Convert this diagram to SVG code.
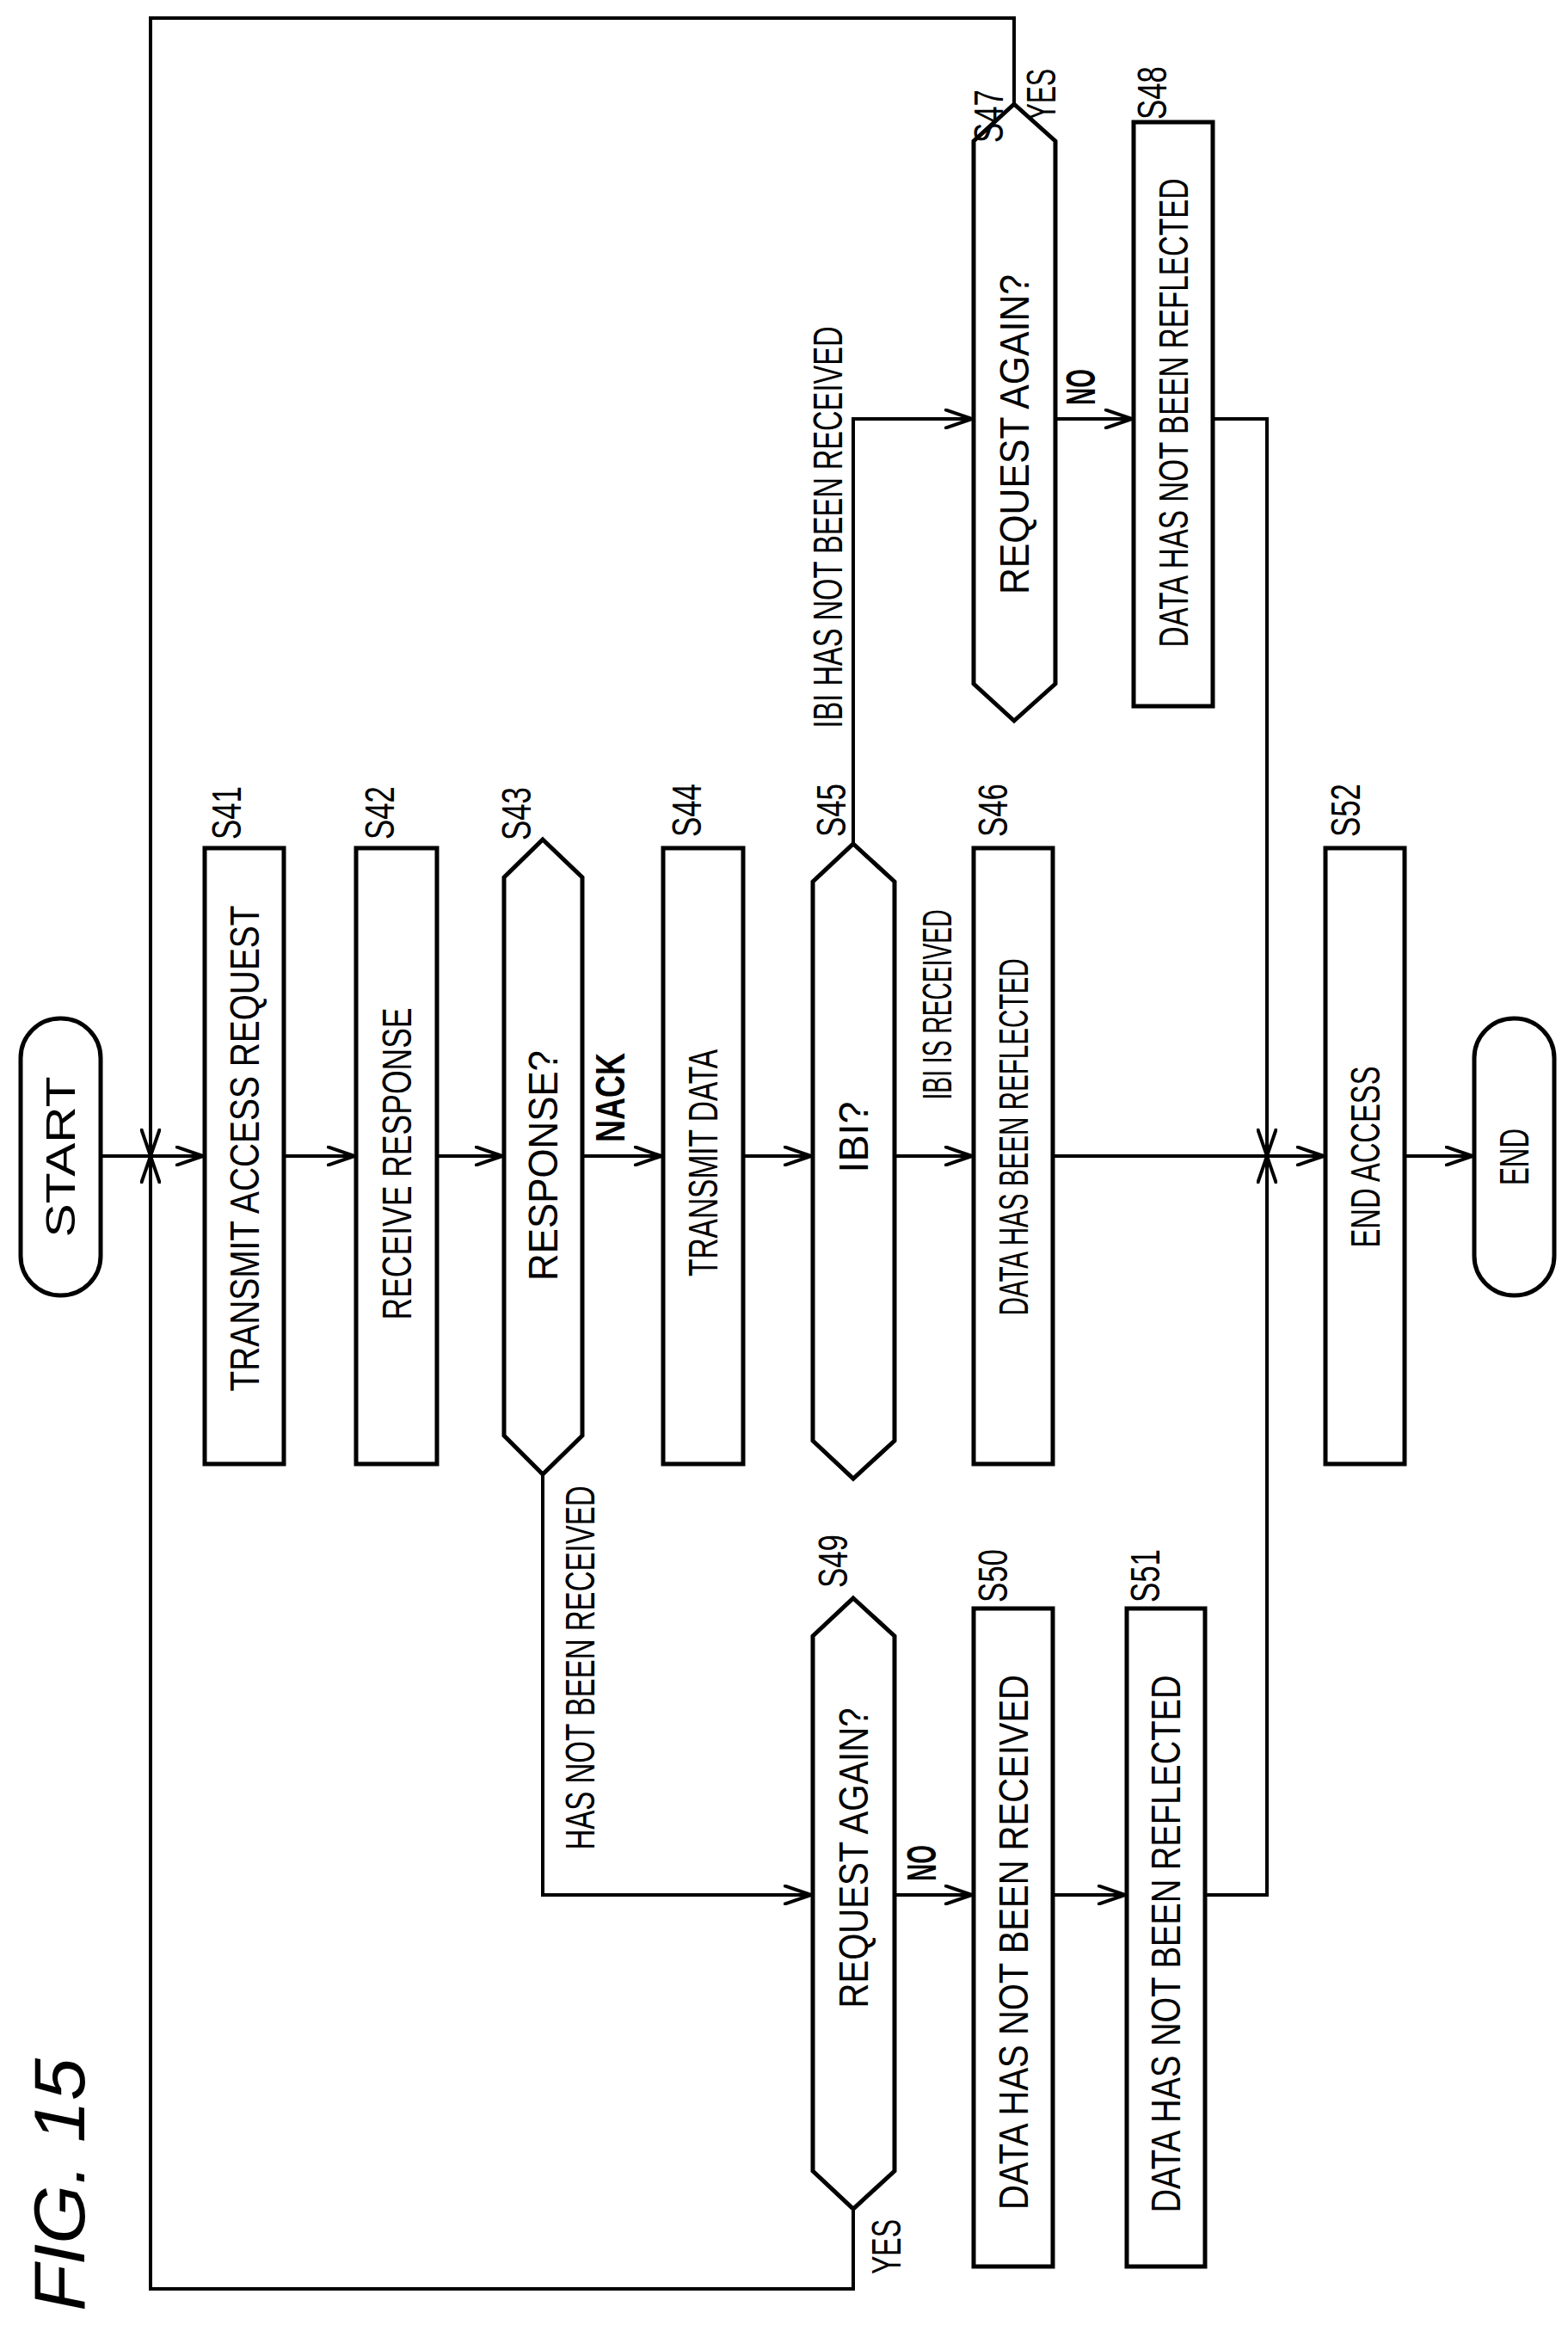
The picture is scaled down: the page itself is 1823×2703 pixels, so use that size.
<svg xmlns="http://www.w3.org/2000/svg" width="1823" height="2703" viewBox="0 0 1823 2703">
<style>
.s{fill:#fff;stroke:#000;stroke-width:5}
.c{fill:none;stroke:#000;stroke-width:4}
.t{font-family:"Liberation Sans",Arial,sans-serif;font-size:48px;text-anchor:middle;dominant-baseline:central;fill:#000}
.b{font-weight:bold}
</style>
<defs>
<marker id="a" markerUnits="userSpaceOnUse" markerWidth="34" markerHeight="24" refX="32" refY="12" orient="auto" viewBox="0 0 34 24">
<path d="M0,1 L32,12 L0,23" fill="none" stroke="#000" stroke-width="4"/>
</marker>
</defs>
<rect width="1823" height="2703" fill="#fff"/>
<g id="connectors">
<path class="c" d="M117,1344 H236" marker-end="url(#a)"/>
<path class="c" d="M330,1344 H412" marker-end="url(#a)"/>
<path class="c" d="M508,1344 H584" marker-end="url(#a)"/>
<path class="c" d="M677,1344 H769" marker-end="url(#a)"/>
<path class="c" d="M864,1344 H943" marker-end="url(#a)"/>
<path class="c" d="M1040,1344 H1130" marker-end="url(#a)"/>
<path class="c" d="M1224,1344 H1539" marker-end="url(#a)"/>
<path class="c" d="M1633,1344 H1712" marker-end="url(#a)"/>
<path class="c" d="M1179,121 V21 H175 V1344" marker-end="url(#a)"/>
<path class="c" d="M992,2568 V2661 H175 V1344" marker-end="url(#a)"/>
<path class="c" d="M992,981 V487 H1130" marker-end="url(#a)"/>
<path class="c" d="M1227,487 H1316" marker-end="url(#a)"/>
<path class="c" d="M1410,487 H1473 V1344" marker-end="url(#a)"/>
<path class="c" d="M1401,2203 H1473 V1344" marker-end="url(#a)"/>
<path class="c" d="M631,1714 V2203 H943" marker-end="url(#a)"/>
<path class="c" d="M1040,2203 H1130" marker-end="url(#a)"/>
<path class="c" d="M1224,2203 H1308" marker-end="url(#a)"/>
<text class="t" transform="translate(674,1939) rotate(-90)" textLength="423" lengthAdjust="spacingAndGlyphs">HAS NOT BEEN RECEIVED</text>
<text class="t" transform="translate(962,613) rotate(-90)" textLength="467" lengthAdjust="spacingAndGlyphs">IBI HAS NOT BEEN RECEIVED</text>
<text class="t" transform="translate(1089,1168) rotate(-90)" textLength="221" lengthAdjust="spacingAndGlyphs">IBI IS RECEIVED</text>
<text class="t b" transform="translate(709,1276) rotate(-90)" textLength="104" lengthAdjust="spacingAndGlyphs">NACK</text>
<text class="t b" transform="translate(1256,450) rotate(-90)" textLength="42" lengthAdjust="spacingAndGlyphs">NO</text>
<text class="t" transform="translate(1210,110) rotate(-90)" textLength="60" lengthAdjust="spacingAndGlyphs">YES</text>
<text class="t b" transform="translate(1071,2166) rotate(-90)" textLength="42" lengthAdjust="spacingAndGlyphs">NO</text>
<text class="t" transform="translate(1030,2612) rotate(-90)" textLength="64" lengthAdjust="spacingAndGlyphs">YES</text>
</g>
<g id="START"><rect class="s" x="24" y="1184" width="93" height="322" rx="46"/><text class="t" transform="translate(70,1345) rotate(-90)" textLength="187" lengthAdjust="spacingAndGlyphs">START</text></g>
<g id="S41"><rect class="s" x="238" y="986" width="92" height="716"/><text class="t" transform="translate(284,1335) rotate(-90)" textLength="565" lengthAdjust="spacingAndGlyphs">TRANSMIT ACCESS REQUEST</text><text class="t" transform="translate(263,945) rotate(-90)" textLength="62" lengthAdjust="spacingAndGlyphs">S41</text></g>
<g id="S42"><rect class="s" x="414" y="986" width="94" height="716"/><text class="t" transform="translate(461,1353) rotate(-90)" textLength="363" lengthAdjust="spacingAndGlyphs">RECEIVE RESPONSE</text><text class="t" transform="translate(441,945) rotate(-90)" textLength="62" lengthAdjust="spacingAndGlyphs">S42</text></g>
<g id="S43"><polygon class="s" points="631,976 677,1020 677,1669 631,1714 586,1669 586,1020"/><text class="t" transform="translate(631,1355) rotate(-90)" textLength="268" lengthAdjust="spacingAndGlyphs">RESPONSE?</text><text class="t" transform="translate(600,946) rotate(-90)" textLength="62" lengthAdjust="spacingAndGlyphs">S43</text></g>
<g id="S44"><rect class="s" x="771" y="986" width="93" height="716"/><text class="t" transform="translate(817,1352) rotate(-90)" textLength="264" lengthAdjust="spacingAndGlyphs">TRANSMIT DATA</text><text class="t" transform="translate(798,942) rotate(-90)" textLength="62" lengthAdjust="spacingAndGlyphs">S44</text></g>
<g id="S45"><polygon class="s" points="992,981 1040,1025 1040,1675 992,1719 945,1675 945,1025"/><text class="t" transform="translate(992,1322) rotate(-90)" textLength="83" lengthAdjust="spacingAndGlyphs">IBI?</text><text class="t" transform="translate(966,942) rotate(-90)" textLength="62" lengthAdjust="spacingAndGlyphs">S45</text></g>
<g id="S46"><rect class="s" x="1132" y="986" width="92" height="716"/><text class="t" transform="translate(1178,1322) rotate(-90)" textLength="415" lengthAdjust="spacingAndGlyphs">DATA HAS BEEN REFLECTED</text><text class="t" transform="translate(1154,942) rotate(-90)" textLength="62" lengthAdjust="spacingAndGlyphs">S46</text></g>
<g id="S47"><polygon class="s" points="1179,121 1227,164 1227,795 1179,838 1132,795 1132,164"/><text class="t" transform="translate(1179,505) rotate(-90)" textLength="372" lengthAdjust="spacingAndGlyphs">REQUEST AGAIN?</text><text class="t" transform="translate(1149,135) rotate(-90)" textLength="62" lengthAdjust="spacingAndGlyphs">S47</text></g>
<g id="S48"><rect class="s" x="1318" y="142" width="92" height="679"/><text class="t" transform="translate(1364,480) rotate(-90)" textLength="545" lengthAdjust="spacingAndGlyphs">DATA HAS NOT BEEN REFLECTED</text><text class="t" transform="translate(1339,108) rotate(-90)" textLength="62" lengthAdjust="spacingAndGlyphs">S48</text></g>
<g id="S49"><polygon class="s" points="992,1858 1040,1902 1040,2524 992,2568 945,2524 945,1902"/><text class="t" transform="translate(992,2160) rotate(-90)" textLength="349" lengthAdjust="spacingAndGlyphs">REQUEST AGAIN?</text><text class="t" transform="translate(968,1815) rotate(-90)" textLength="62" lengthAdjust="spacingAndGlyphs">S49</text></g>
<g id="S50"><rect class="s" x="1132" y="1870" width="92" height="765"/><text class="t" transform="translate(1178,2258) rotate(-90)" textLength="622" lengthAdjust="spacingAndGlyphs">DATA HAS NOT BEEN RECEIVED</text><text class="t" transform="translate(1154,1832) rotate(-90)" textLength="62" lengthAdjust="spacingAndGlyphs">S50</text></g>
<g id="S51"><rect class="s" x="1310" y="1870" width="91" height="765"/><text class="t" transform="translate(1355,2260) rotate(-90)" textLength="625" lengthAdjust="spacingAndGlyphs">DATA HAS NOT BEEN REFLECTED</text><text class="t" transform="translate(1331,1832) rotate(-90)" textLength="62" lengthAdjust="spacingAndGlyphs">S51</text></g>
<g id="S52"><rect class="s" x="1541" y="986" width="92" height="716"/><text class="t" transform="translate(1587,1345) rotate(-90)" textLength="211" lengthAdjust="spacingAndGlyphs">END ACCESS</text><text class="t" transform="translate(1564,942) rotate(-90)" textLength="62" lengthAdjust="spacingAndGlyphs">S52</text></g>
<g id="END"><rect class="s" x="1714" y="1184" width="93" height="322" rx="46"/><text class="t" transform="translate(1760,1345) rotate(-90)" textLength="66" lengthAdjust="spacingAndGlyphs">END</text></g>
<text class="t" style="font-size:84px;font-style:italic" transform="translate(69,2540) rotate(-90)" textLength="294" lengthAdjust="spacingAndGlyphs">FIG. 15</text>
</svg>
